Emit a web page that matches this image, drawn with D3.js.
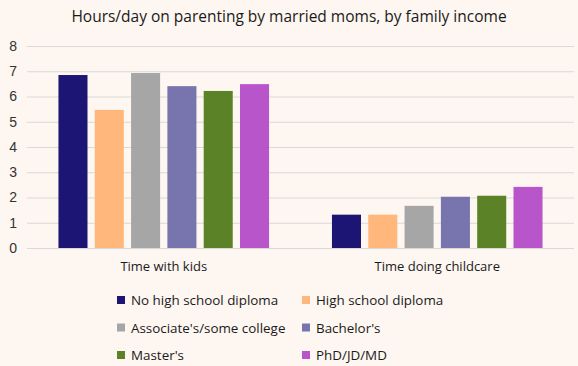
<!DOCTYPE html>
<html>
<head>
<meta charset="utf-8">
<script src="https://cdn.jsdelivr.net/npm/d3@7"></script>
<style>
  body { margin: 0; background: #fef6f1; }
  svg { display: block; font-family: "Open Sans", sans-serif; }
</style>
</head>
<body>
<svg id="chart" width="578" height="366"></svg>
<script>
var categories = ['Time with kids', 'Time doing childcare'];
var series = ['No high school diploma', 'High school diploma', 'Associate\'s/some college', 'Bachelor\'s', 'Master\'s', 'PhD/JD/MD'];
var values = [
  [6.85, 1.32],
  [5.47, 1.32],
  [6.93, 1.67],
  [6.41, 2.03],
  [6.22, 2.07],
  [6.49, 2.42]
];
var yTicks = [0, 1, 2, 3, 4, 5, 6, 7, 8];
var colors = ['#1c1574', '#ffb77b', '#a6a6a6', '#7874ae', '#5b8226', '#b955cb'];

var svg = d3.select('#chart');

var margin = {top: 46, right: 4, bottom: 118, left: 27};
var width = 578 - margin.left - margin.right;
var height = 366 - margin.top - margin.bottom;

svg.append('text')
  .attr('x', 289)
  .attr('y', 22)
  .attr('text-anchor', 'middle')
  .attr('font-size', 15.5)
  .attr('fill', '#1a1a1a')
  .text('Hours/day on parenting by married moms, by family income');

var g = svg.append('g').attr('transform', 'translate(' + margin.left + ',' + margin.top + ')');

var x0 = d3.scaleBand().domain(categories).range([0, width]).paddingInner(0.23).paddingOuter(0.115);
var x1 = d3.scaleBand().domain(series).range([0, x0.bandwidth()]).paddingInner(0.2);
var y = d3.scaleLinear().domain([0, 8]).range([height, 0]);

// gridlines
g.selectAll('.grid')
  .data(yTicks)
  .enter().append('line')
  .attr('x1', 0).attr('x2', width)
  .attr('y1', function(d) { return y(d) + 0.5 })
  .attr('y2', function(d) { return y(d) + 0.5 })
  .attr('stroke', '#d9d9d9')
  .attr('stroke-width', 1);

// Y axis
var yAxis = g.append('g')
  .call(d3.axisLeft(y).tickValues(yTicks).tickSize(0).tickPadding(10));
yAxis.select('.domain').remove();
yAxis.selectAll('text')
  .attr('font-family', '"Liberation Sans", Arial, sans-serif')
  .attr('font-size', 14)
  .attr('fill', '#333');

// bars
var groups = g.selectAll('.group')
  .data(categories)
  .enter().append('g')
  .attr('transform', function(d) { return 'translate(' + x0(d) + ',0)' });

groups.selectAll('rect')
  .data(function(c, ci) {
    return series.map(function(s, si) { return {s: s, i: si, v: values[si][ci]} });
  })
  .enter().append('rect')
  .attr('x', function(d) { return x1(d.s) })
  .attr('width', x1.bandwidth())
  .attr('y', function(d) { return y(d.v) })
  .attr('height', function(d) { return y(0) - y(d.v) })
  .attr('fill', function(d) { return colors[d.i] });

// X axis labels
var xAxis = g.append('g')
  .attr('transform', 'translate(0,' + height + ')')
  .call(d3.axisBottom(x0).tickSize(0).tickPadding(14));
xAxis.select('.domain').remove();
xAxis.selectAll('text')
  .attr('font-family', '"Open Sans", sans-serif')
  .attr('font-size', 13)
  .attr('fill', '#1a1a1a');

// Legend
var legend = svg.append('g');
var item = legend.selectAll('.item')
  .data(series)
  .enter().append('g')
  .attr('transform', function(d, i) {
    return 'translate(' + (i % 2 === 0 ? 117 : 302) + ',' + (300 + Math.floor(i / 2) * 27.5) + ')';
  });
item.append('rect')
  .attr('x', 0).attr('y', -4)
  .attr('width', 8).attr('height', 8)
  .attr('fill', function(d, i) { return colors[i] });
item.append('text')
  .attr('x', 14)
  .attr('y', 5)
  .attr('font-size', 13.4)
  .attr('fill', '#1a1a1a')
  .text(function(d) { return d });
</script>
</body>
</html>
